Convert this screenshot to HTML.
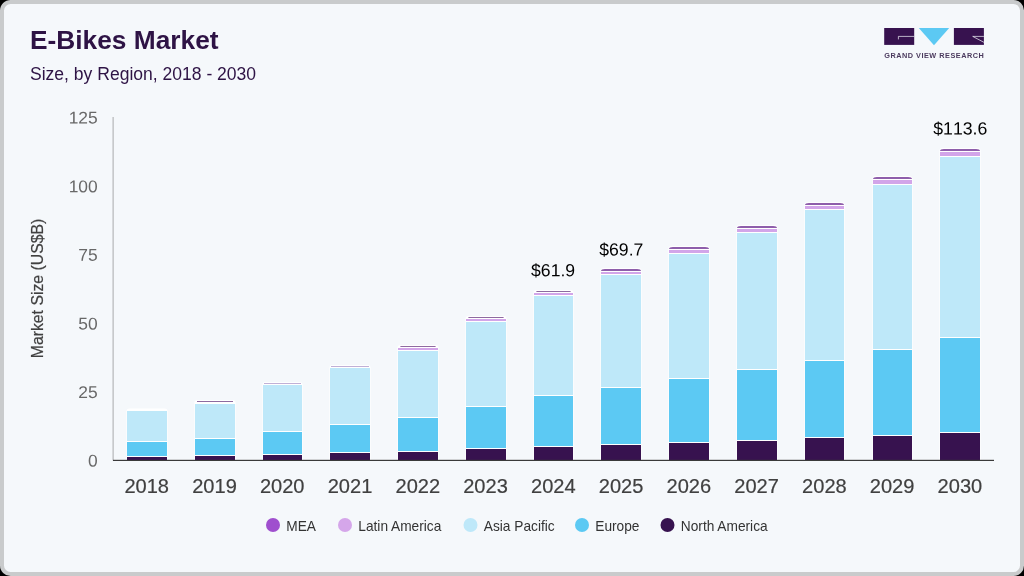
<!DOCTYPE html>
<html><head><meta charset="utf-8"><title>E-Bikes Market</title>
<style>
html,body{margin:0;padding:0;background:#000;}
body{width:1024px;height:576px;overflow:hidden;font-family:"Liberation Sans",Arial,sans-serif;}
#card{position:absolute;left:0;top:0;width:1016px;height:568px;border:4px solid #c9cbcc;border-radius:10.6px;background:#f5f8fb;overflow:hidden;}
svg{position:absolute;left:-4px;top:-4px;will-change:transform;}
text{font-family:"Liberation Sans",Arial,sans-serif;}
.dl{font-kerning:none;}
</style></head><body>
<div id="card">
<svg width="1024" height="576" viewBox="0 0 1024 576">

<text x="30" y="49" font-size="26.3" font-weight="bold" fill="#2e1345">E-Bikes Market</text>
<text x="30" y="80" font-size="17.55" fill="#2e1345">Size, by Region, 2018 - 2030</text>
<g id="logo">
<rect x="884.2" y="28" width="30" height="16.9" fill="#37124f"/>
<path d="M914.2 36.4H898.4V39.4" fill="none" stroke="#f5f8fb" stroke-width="0.7"/>
<path d="M918.8 28H949.2L934 45.2Z" fill="#5cc9f3"/>
<rect x="953.9" y="28" width="30" height="16.9" fill="#37124f"/>
<path d="M983.9 36.4H972.7L983.9 42.3" fill="none" stroke="#f5f8fb" stroke-width="0.7"/>
<text x="884.2" y="57.7" font-size="7.3" font-weight="bold" fill="#4b3a5e" textLength="99.6" lengthAdjust="spacing">GRAND VIEW RESEARCH</text>
</g>
<rect x="112.4" y="117" width="1.5" height="343.5" fill="#c2c4c6"/>
<text transform="translate(97.7,466.6) scale(1.025,1) rotate(0.03)" font-size="17" fill="#686868" text-anchor="end">0</text>
<text transform="translate(97.7,398.0) scale(1.025,1) rotate(0.03)" font-size="17" fill="#686868" text-anchor="end">25</text>
<text transform="translate(97.7,329.4) scale(1.025,1) rotate(0.03)" font-size="17" fill="#686868" text-anchor="end">50</text>
<text transform="translate(97.7,260.8) scale(1.025,1) rotate(0.03)" font-size="17" fill="#686868" text-anchor="end">75</text>
<text transform="translate(97.7,192.2) scale(1.025,1) rotate(0.03)" font-size="17" fill="#686868" text-anchor="end">100</text>
<text transform="translate(97.7,123.6) scale(1.025,1) rotate(0.03)" font-size="17" fill="#686868" text-anchor="end">125</text>
<text transform="translate(43.4,288.5) rotate(-90)" font-size="15.8" fill="#404040" stroke="#404040" stroke-width="0.2" text-anchor="middle">Market Size (US$B)</text>
<path d="M126.40 460.00V411.60Q126.40 408.40 129.60 408.40H164.40Q167.60 408.40 167.60 411.60V460.00Z" fill="#fff"/>
<rect x="127" y="411" width="40" height="30" fill="#bee8f9"/>
<rect x="127" y="442" width="40" height="14" fill="#5cc9f3"/>
<rect x="127" y="457" width="40" height="3" fill="#37124f"/>
<path d="M194.40 460.00V403.20Q194.40 400.00 197.60 400.00H232.40Q235.60 400.00 235.60 403.20V460.00Z" fill="#fff"/>
<rect x="197.00" y="401.00" width="36.00" height="1" fill="#8e6aa0"/>
<rect x="195" y="404" width="40" height="34" fill="#bee8f9"/>
<rect x="195" y="439" width="40" height="16" fill="#5cc9f3"/>
<rect x="195" y="456" width="40" height="4" fill="#37124f"/>
<path d="M262.40 460.00V385.20Q262.40 382.00 265.60 382.00H299.40Q302.60 382.00 302.60 385.20V460.00Z" fill="#fff"/>
<rect x="264.00" y="383.00" width="37.00" height="1" fill="#c0b0d6"/>
<rect x="263" y="385" width="39" height="46" fill="#bee8f9"/>
<rect x="263" y="432" width="39" height="22" fill="#5cc9f3"/>
<rect x="263" y="455" width="39" height="5" fill="#37124f"/>
<path d="M329.40 460.00V368.20Q329.40 365.00 332.60 365.00H367.40Q370.60 365.00 370.60 368.20V460.00Z" fill="#fff"/>
<rect x="331.00" y="366.00" width="38.00" height="1" fill="#c0b0d6"/>
<rect x="330" y="368" width="40" height="56" fill="#bee8f9"/>
<rect x="330" y="425" width="40" height="27" fill="#5cc9f3"/>
<rect x="330" y="453" width="40" height="7" fill="#37124f"/>
<path d="M397.40 460.00V348.20Q397.40 345.00 400.60 345.00H435.40Q438.60 345.00 438.60 348.20V460.00Z" fill="#fff"/>
<rect x="400.40" y="346.00" width="35.20" height="1.00" fill="#8e6aa0"/>
<rect x="398" y="348" width="40" height="2" fill="#d2a5e9"/>
<rect x="398" y="351" width="40" height="66" fill="#bee8f9"/>
<rect x="398" y="418" width="40" height="33" fill="#5cc9f3"/>
<rect x="398" y="452" width="40" height="8" fill="#37124f"/>
<path d="M465.40 460.00V319.20Q465.40 316.00 468.60 316.00H503.40Q506.60 316.00 506.60 319.20V460.00Z" fill="#fff"/>
<rect x="468.40" y="317.00" width="35.20" height="1.00" fill="#8e6aa0"/>
<rect x="466" y="319" width="40" height="2" fill="#d2a5e9"/>
<rect x="466" y="322" width="40" height="84" fill="#bee8f9"/>
<rect x="466" y="407" width="40" height="41" fill="#5cc9f3"/>
<rect x="466" y="449" width="40" height="11" fill="#37124f"/>
<path d="M533.40 460.00V293.20Q533.40 290.00 536.60 290.00H570.40Q573.60 290.00 573.60 293.20V460.00Z" fill="#fff"/>
<rect x="536.40" y="291.00" width="34.20" height="1.00" fill="#8e6aa0"/>
<rect x="534" y="293" width="39" height="2" fill="#d2a5e9"/>
<rect x="534" y="296" width="39" height="99" fill="#bee8f9"/>
<rect x="534" y="396" width="39" height="50" fill="#5cc9f3"/>
<rect x="534" y="447" width="39" height="13" fill="#37124f"/>
<path d="M600.40 460.00V271.20Q600.40 268.00 603.60 268.00H638.40Q641.60 268.00 641.60 271.20V460.00Z" fill="#fff"/>
<path d="M601.00 271.00V271.00Q601.00 269.00 605.00 269.00H637.00Q641.00 269.00 641.00 271.00V271.00Z" fill="#8e5eab"/>
<rect x="601" y="272" width="40" height="2" fill="#d2a5e9"/>
<rect x="601" y="275" width="40" height="112" fill="#bee8f9"/>
<rect x="601" y="388" width="40" height="56" fill="#5cc9f3"/>
<rect x="601" y="445" width="40" height="15" fill="#37124f"/>
<path d="M668.40 460.00V249.20Q668.40 246.00 671.60 246.00H706.40Q709.60 246.00 709.60 249.20V460.00Z" fill="#fff"/>
<path d="M669.00 249.00V249.00Q669.00 247.00 673.00 247.00H705.00Q709.00 247.00 709.00 249.00V249.00Z" fill="#8e5eab"/>
<rect x="669" y="250" width="40" height="3" fill="#d2a5e9"/>
<rect x="669" y="254" width="40" height="124" fill="#bee8f9"/>
<rect x="669" y="379" width="40" height="63" fill="#5cc9f3"/>
<rect x="669" y="443" width="40" height="17" fill="#37124f"/>
<path d="M736.40 460.00V228.20Q736.40 225.00 739.60 225.00H774.40Q777.60 225.00 777.60 228.20V460.00Z" fill="#fff"/>
<path d="M737.00 228.00V228.00Q737.00 226.00 741.00 226.00H773.00Q777.00 226.00 777.00 228.00V228.00Z" fill="#8e5eab"/>
<rect x="737" y="229" width="40" height="3" fill="#d2a5e9"/>
<rect x="737" y="233" width="40" height="136" fill="#bee8f9"/>
<rect x="737" y="370" width="40" height="70" fill="#5cc9f3"/>
<rect x="737" y="441" width="40" height="19" fill="#37124f"/>
<path d="M804.40 460.00V205.20Q804.40 202.00 807.60 202.00H841.40Q844.60 202.00 844.60 205.20V460.00Z" fill="#fff"/>
<path d="M805.00 205.00V205.00Q805.00 203.00 809.00 203.00H840.00Q844.00 203.00 844.00 205.00V205.00Z" fill="#8e5eab"/>
<rect x="805" y="206" width="39" height="3" fill="#d2a5e9"/>
<rect x="805" y="210" width="39" height="150" fill="#bee8f9"/>
<rect x="805" y="361" width="39" height="76" fill="#5cc9f3"/>
<rect x="805" y="438" width="39" height="22" fill="#37124f"/>
<path d="M872.40 460.00V179.20Q872.40 176.00 875.60 176.00H909.40Q912.60 176.00 912.60 179.20V460.00Z" fill="#fff"/>
<path d="M873.00 179.00V179.00Q873.00 177.00 877.00 177.00H908.00Q912.00 177.00 912.00 179.00V179.00Z" fill="#8e5eab"/>
<rect x="873" y="180" width="39" height="4" fill="#d2a5e9"/>
<rect x="873" y="185" width="39" height="164" fill="#bee8f9"/>
<rect x="873" y="350" width="39" height="85" fill="#5cc9f3"/>
<rect x="873" y="436" width="39" height="24" fill="#37124f"/>
<path d="M939.40 460.00V151.20Q939.40 148.00 942.60 148.00H977.40Q980.60 148.00 980.60 151.20V460.00Z" fill="#fff"/>
<path d="M940.00 151.00V151.00Q940.00 149.00 944.00 149.00H976.00Q980.00 149.00 980.00 151.00V151.00Z" fill="#8e5eab"/>
<rect x="940" y="152" width="40" height="4" fill="#d2a5e9"/>
<rect x="940" y="157" width="40" height="180" fill="#bee8f9"/>
<rect x="940" y="338" width="40" height="94" fill="#5cc9f3"/>
<rect x="940" y="433" width="40" height="27" fill="#37124f"/>
<rect x="113" y="459.8" width="881" height="1.2" fill="#3a3a3a"/>
<text transform="translate(146.7,493) scale(1.04,1)" font-size="19.3" fill="#404040" stroke="#404040" stroke-width="0.2" text-anchor="middle">2018</text>
<text transform="translate(214.5,493) scale(1.04,1)" font-size="19.3" fill="#404040" stroke="#404040" stroke-width="0.2" text-anchor="middle">2019</text>
<text transform="translate(282.2,493) scale(1.04,1)" font-size="19.3" fill="#404040" stroke="#404040" stroke-width="0.2" text-anchor="middle">2020</text>
<text transform="translate(350.0,493) scale(1.04,1)" font-size="19.3" fill="#404040" stroke="#404040" stroke-width="0.2" text-anchor="middle">2021</text>
<text transform="translate(417.8,493) scale(1.04,1)" font-size="19.3" fill="#404040" stroke="#404040" stroke-width="0.2" text-anchor="middle">2022</text>
<text transform="translate(485.5,493) scale(1.04,1)" font-size="19.3" fill="#404040" stroke="#404040" stroke-width="0.2" text-anchor="middle">2023</text>
<text transform="translate(553.3,493) scale(1.04,1)" font-size="19.3" fill="#404040" stroke="#404040" stroke-width="0.2" text-anchor="middle">2024</text>
<text transform="translate(621.1,493) scale(1.04,1)" font-size="19.3" fill="#404040" stroke="#404040" stroke-width="0.2" text-anchor="middle">2025</text>
<text transform="translate(688.8,493) scale(1.04,1)" font-size="19.3" fill="#404040" stroke="#404040" stroke-width="0.2" text-anchor="middle">2026</text>
<text transform="translate(756.6,493) scale(1.04,1)" font-size="19.3" fill="#404040" stroke="#404040" stroke-width="0.2" text-anchor="middle">2027</text>
<text transform="translate(824.4,493) scale(1.04,1)" font-size="19.3" fill="#404040" stroke="#404040" stroke-width="0.2" text-anchor="middle">2028</text>
<text transform="translate(892.1,493) scale(1.04,1)" font-size="19.3" fill="#404040" stroke="#404040" stroke-width="0.2" text-anchor="middle">2029</text>
<text transform="translate(959.9,493) scale(1.04,1)" font-size="19.3" fill="#404040" stroke="#404040" stroke-width="0.2" text-anchor="middle">2030</text>
<text transform="translate(553.1,276.3) rotate(0.03)" class="dl" font-size="17.6" fill="#000" text-anchor="middle">$61.9</text>
<text transform="translate(621.3,255.4) rotate(0.03)" class="dl" font-size="17.6" fill="#000" text-anchor="middle">$69.7</text>
<text transform="translate(960.3,134.6) rotate(0.03)" class="dl" font-size="17.7" fill="#000" text-anchor="middle">$113.6</text>
<circle cx="273.0" cy="525" r="7" fill="#9f4fce"/>
<text transform="translate(286.3,530.8) scale(0.893,1)" font-size="15.35" fill="#333">MEA</text>
<circle cx="345.0" cy="525" r="7" fill="#d5a6ea"/>
<text transform="translate(358.3,530.8) scale(0.893,1)" font-size="15.35" fill="#333">Latin America</text>
<circle cx="470.5" cy="525" r="7" fill="#bee8f9"/>
<text transform="translate(483.8,530.8) scale(0.893,1)" font-size="15.35" fill="#333">Asia Pacific</text>
<circle cx="582.0" cy="525" r="7" fill="#5cc9f3"/>
<text transform="translate(595.3,530.8) scale(0.893,1)" font-size="15.35" fill="#333">Europe</text>
<circle cx="667.5" cy="525" r="7" fill="#37124f"/>
<text transform="translate(680.8,530.8) scale(0.893,1)" font-size="15.35" fill="#333">North America</text>
</svg></div></body></html>
